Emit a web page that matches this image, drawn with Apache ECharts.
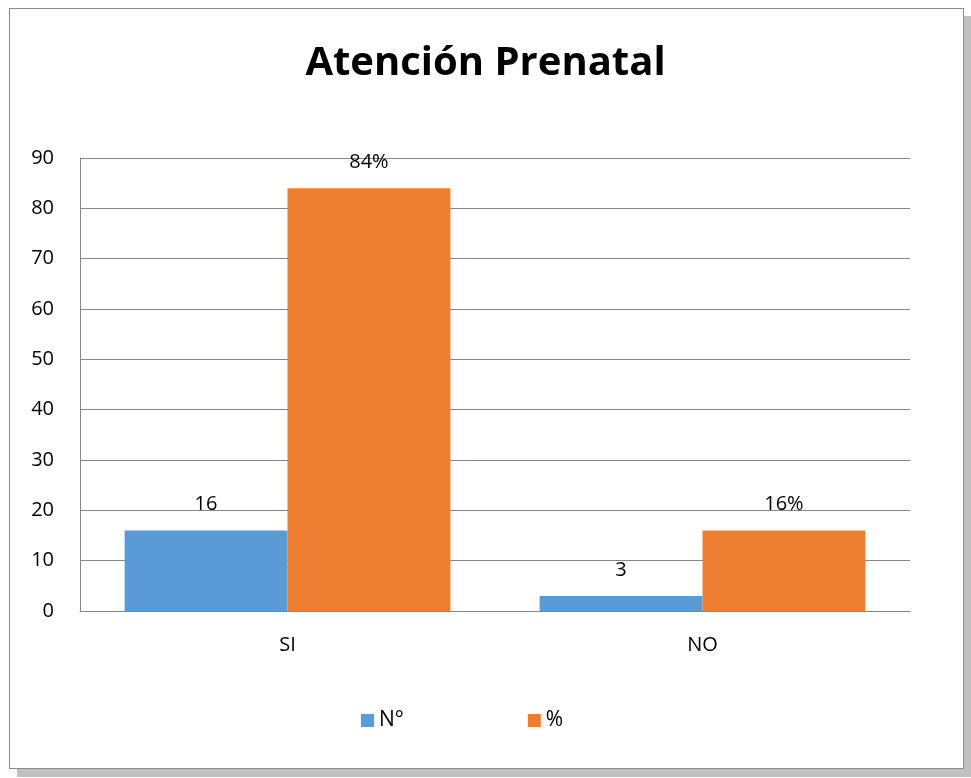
<!DOCTYPE html>
<html>
<head>
<meta charset="utf-8">
<script src="https://cdn.jsdelivr.net/npm/echarts@6/dist/echarts.min.js"></script>
<style>
  html, body { margin: 0; padding: 0; background: #fff; }
  .frame {
    position: absolute; left: 9px; top: 8px; width: 953px; height: 759px;
    border: 1px solid #8c8c8c; box-shadow: 8px 8px 0 #c0c0c0; background: #fff;
  }
  #chart { position: absolute; left: 0; top: 0; width: 971px; height: 778px; }
</style>
</head>
<body>
<div class="frame"></div>
<div id="chart"></div>
<script>
const categories = ['SI', 'NO']
const countValues = [16, 3]
const percentValues = [84, 16]
const seriesNames = ['N°', '%']

const chart = echarts.init(document.getElementById('chart'))
const font = "'Open Sans', 'Liberation Sans', sans-serif"

const option = {
  backgroundColor: 'transparent',
  animation: false,
  title: {
    text: 'Atención Prenatal',
    left: 'center',
    top: 39,
    textStyle: { fontFamily: font, fontWeight: 'bold', fontSize: 40, color: '#000' }
  },
  legend: {
    bottom: 42,
    left: 356,
    itemWidth: 13,
    itemHeight: 13,
    itemGap: 124,
    icon: 'rect',
    textStyle: { fontFamily: font, fontSize: 21, color: '#000' },
    data: seriesNames
  },
  grid: { left: 80, right: 61, top: 158, bottom: 167 },
  xAxis: {
    type: 'category',
    data: categories,
    axisTick: { show: false },
    axisLine: { lineStyle: { color: '#868686' } },
    axisLabel: { fontFamily: font, fontSize: 20, color: '#000', margin: 24 }
  },
  yAxis: {
    type: 'value',
    min: 0,
    max: 90,
    interval: 10,
    axisLine: { show: true, lineStyle: { color: '#868686' } },
    axisTick: { show: false },
    splitLine: { lineStyle: { color: '#868686' } },
    axisLabel: { fontFamily: font, fontSize: 20, color: '#000', margin: 26 }
  },
  series: [
    {
      name: seriesNames[0],
      type: 'bar',
      data: countValues,
      barGap: '0%',
      barCategoryGap: '21.5%',
      itemStyle: { color: '#5B9BD5' },
      label: { show: true, position: 'top', distance: 16, fontFamily: font, fontSize: 20, color: '#000' }
    },
    {
      name: seriesNames[1],
      type: 'bar',
      data: percentValues,
      barGap: '0%',
      barCategoryGap: '21.5%',
      itemStyle: { color: '#ED7D31' },
      label: { show: true, position: 'top', distance: 16, fontFamily: font, fontSize: 20, color: '#000', formatter: '{c}%' }
    }
  ]
}
chart.setOption(option)
</script>
</body>
</html>
